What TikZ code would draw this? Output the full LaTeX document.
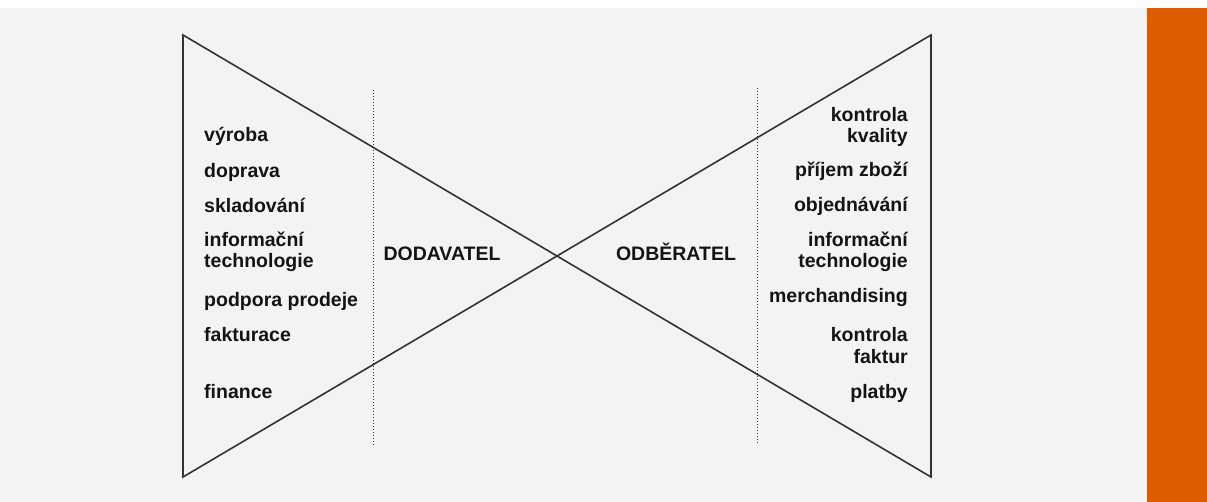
\documentclass[tikz,border=0pt]{standalone}
\usepackage{fontspec}
\setmainfont{Liberation Sans}
\usetikzlibrary{positioning}
\definecolor{BgGray}{HTML}{F3F3F3}
\definecolor{Accent}{HTML}{DE5C00}
\definecolor{LineG} {HTML}{333333}
\definecolor{TextG} {HTML}{141414}
\tikzset{
  txt/.style={
    font=\fontsize{19.5}{21}\selectfont\bfseries,
    text=TextG, inner sep=0pt,
  },
  litem/.style={txt, anchor=base west, align=left},
  ritem/.style={txt, anchor=base east, align=right},
  role/.style={txt, anchor=base},
  bow/.style={draw=LineG, line width=1.6pt, line join=miter},
  divider/.style={draw=LineG, line width=0.9pt, dash pattern=on 1pt off 2pt},
}
\begin{document}
\begin{tikzpicture}[x=1pt,y=-1pt]
  \useasboundingbox (0,0) rectangle (1207,502);
  % background and side bar
  \fill[white]  (0,0) rectangle (1207,8);
  \fill[BgGray] (0,8) rectangle (1147,502);
  \fill[Accent] (1147,8) rectangle (1207,502);

  % bow tie
  \coordinate (tl) at (183,35);  \coordinate (bl) at (183,477);
  \coordinate (tr) at (931,35);  \coordinate (br) at (931,477);
  \draw[bow] (tl) -- (br) -- (tr) -- (bl) -- cycle;

  \coordinate (ldt) at (373,90);  \coordinate (ldb) at (373,445);
  \coordinate (rdt) at (757,88);  \coordinate (rdb) at (757,443);
  \draw[divider] (ldt) -- (ldb);
  \draw[divider] (rdt) -- (rdb);

  % supplier side (base = last line)
  \node[litem] (vyr) at (204,142) {výroba};
  \node[litem] (dop) at (204,178) {doprava};
  \node[litem] (skl) at (204,213) {skladování};
  \node[litem] (inl) at (204,268) {informační\\technologie};
  \node[litem] (pod) at (204,307) {podpora prodeje};
  \node[litem] (fak) at (204,342) {fakturace};
  \node[litem] (fin) at (204,398) {finance};
  \node[role]  (dod) at (442,261) {DODAVATEL};

  % customer side
  \node[ritem] (kkv) at (908,143) {kontrola\\kvality};
  \node[ritem] (pri) at (908,177) {příjem zboží};
  \node[ritem] (obj) at (908,212) {objednávání};
  \node[ritem] (inr) at (908,268) {informační\\technologie};
  \node[ritem] (mer) at (908,303) {merchandising};
  \node[ritem] (kfa) at (908,363) {kontrola\\faktur};
  \node[ritem] (pla) at (908,398) {platby};
  \node[role]  (odb) at (676,261) {ODBĚRATEL};
\end{tikzpicture}
\end{document}
